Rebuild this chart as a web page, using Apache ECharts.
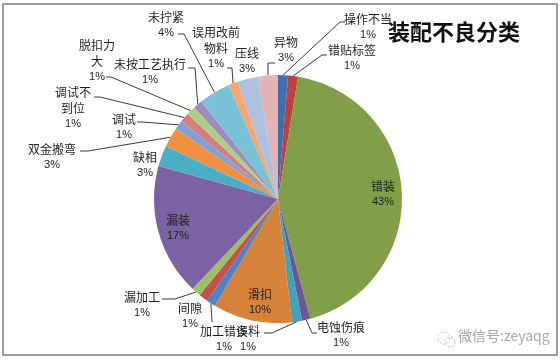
<!DOCTYPE html>
<html>
<head>
<meta charset="utf-8">
<script src="https://cdn.jsdelivr.net/npm/echarts@6/dist/echarts.min.js"></script>
<style>
html,body{margin:0;padding:0;background:#fff;}
#c{width:560px;height:362px;}
</style>
</head>
<body>
<div id="c"></div>
<script>
// ---- data ----
const categories = ['操作不当','错贴标签','错装','电蚀伤痕','多料','滑扣','加工错误','间隙','漏加工','漏装','缺相','双金搬弯','调试','调试不到位','脱扣力大','未按工艺执行','未拧紧','误用改前物料','压线','异物'];
const shares = [1.3,1.3,43.2,1.1,1.3,10.3,1.2,1.2,1.2,17.2,2.7,2.6,1.2,1.2,1.2,1.2,4.1,1.2,2.7,2.6];
const titleText = '装配不良分类';
const watermarkText = '微信号:zeyaqg';

// ---- styles / layout ----
const sliceColors = ['#3E6DB0','#B9423F','#819F49','#6D5596','#3FA3BC','#D8833A','#4E84C4','#C5504E','#9CC064','#7C62A3','#4AAEC6','#F0903E','#7F9FD6','#D37E7B','#B0CD84','#9C8CBD','#79C1D6','#F8A66B','#AFC1E0','#E2B4B3'];
const labelLines = {'脱扣力大':['脱扣力','大'],'调试不到位':['调试不','到位'],'误用改前物料':['误用改前','物料']};
const labelAnchors = {
  '操作不当':[368,27], '错贴标签':[352,58], '错装':[383,194], '电蚀伤痕':[341,335],
  '多料':[248,339], '滑扣':[260,302], '加工错误':[224,339], '间隙':[190,316],
  '漏加工':[142,305], '漏装':[178,228], '缺相':[145,165], '双金搬弯':[52,157],
  '调试':[124,127], '调试不到位':[73,108], '脱扣力大':[97,61], '未按工艺执行':[150,72],
  '未拧紧':[166,25], '误用改前物料':[216,48], '压线':[247,61], '异物':[286,50]
};
const leaderBends = {
  '操作不当':[[340,22],[345,22]], '错贴标签':[[322,55],[327,55]],
  '异物':[[268,63],[275,63]], '误用改前物料':[[232,68],[227,68]],
  '未拧紧':[[184,34],[178,34]], '脱扣力大':[[111,77],[106,77]],
  '未按工艺执行':[[195,68],[188,68]], '调试不到位':[[100,97],[94,97]],
  '调试':[[142,122],[137,122]], '双金搬弯':[[88,151],[80,151]],
  '漏加工':[[175,299],[162,299]], '加工错误':[[212,322]],
  '多料':[[272,333],[264,333]], '电蚀伤痕':[[312,333],[317,333]]
};
const CX = 278, CY = 199, R = 124;

const chart = echarts.init(document.getElementById('c'), null, {renderer:'canvas'});

const seriesData = categories.map((name, i) => ({
  name: name,
  value: shares[i],
  itemStyle: { color: sliceColors[i] },
  labelLine: { show: !!leaderBends[name] }
}));

const option = {
  animation: false,
  title: {
    text: titleText,
    left: 383, top: 16,
    textStyle: { fontFamily: 'Noto Sans CJK SC', fontSize: 22, fontWeight: 'bold', color: '#111' }
  },
  graphic: [
    { type: 'rect', shape: { x: 3, y: 4, width: 554, height: 351 }, style: { fill: 'none', stroke: '#9c9c9c', lineWidth: 2 }, silent: true },
    { type: 'circle', shape: { cx: 444, cy: 338, r: 6 }, style: { fill: 'none', stroke: '#bbb', lineWidth: 1, lineDash: [2,2] }, silent: true },
    { type: 'circle', shape: { cx: 450, cy: 342, r: 5 }, style: { fill: 'none', stroke: '#bbb', lineWidth: 1, lineDash: [2,2] }, silent: true },
    { type: 'text', left: 458, top: 329, style: { text: watermarkText, fill: '#a8a8a8', font: '14px "Noto Sans CJK SC"' }, silent: true }
  ],
  series: [{
    type: 'pie',
    center: [CX, CY],
    radius: R,
    startAngle: 90,
    clockwise: true,
    avoidLabelOverlap: false,
    silent: true,
    itemStyle: { borderWidth: 0 },
    emphasis: { disabled: true },
    label: {
      show: true,
      position: 'outside',
      fontFamily: 'Noto Sans CJK SC',
      formatter: function (p) {
        const lines = labelLines[p.name] || [p.name];
        return lines.map(l => '{n|' + l + '}').join('\n') + '\n{p|' + Math.round(p.percent) + '%}';
      },
      rich: {
        n: { fontSize: 12, lineHeight: 16, color: '#1e1e1e', fontFamily: 'Noto Sans CJK SC', align: 'center' },
        p: { fontSize: 11, lineHeight: 16, color: '#1e1e1e', fontFamily: 'Liberation Sans', align: 'center' }
      }
    },
    labelLine: { show: true, length: 5, length2: 5, lineStyle: { color: '#3a3a3a', width: 1 } },
    labelLayout: function (p) {
      const name = categories[p.dataIndex];
      const a = labelAnchors[name];
      const out = { x: a[0], y: a[1], align: 'center', verticalAlign: 'middle', hideOverlap: false };
      const bends = leaderBends[name];
      if (bends && p.labelLinePoints && p.labelLinePoints[0]) {
        out.labelLinePoints = [p.labelLinePoints[0]].concat(bends);
      }
      return out;
    },
    data: seriesData
  }]
};
chart.setOption(option);
</script>
</body>
</html>
